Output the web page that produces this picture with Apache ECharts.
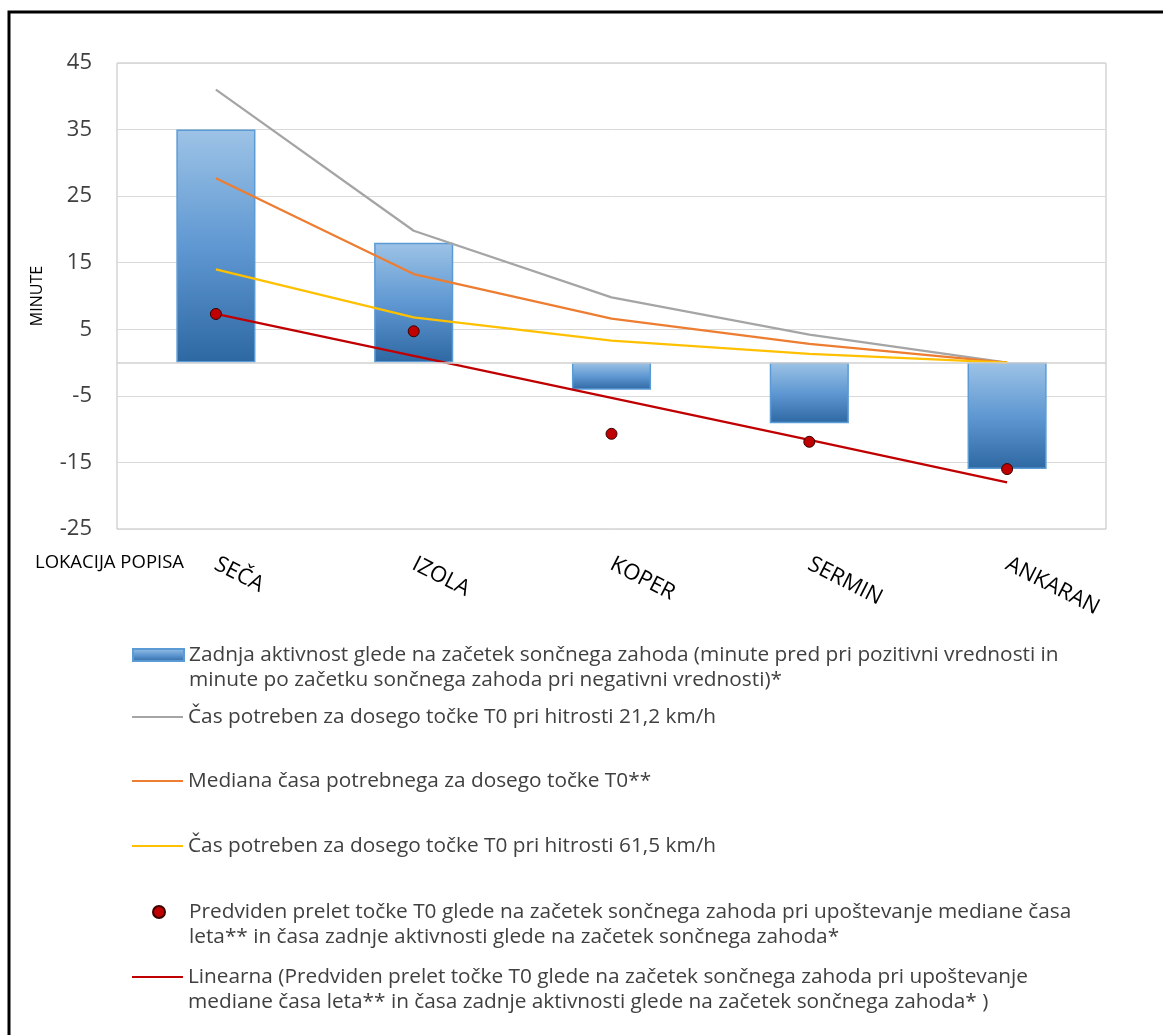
<!DOCTYPE html>
<html>
<head>
<meta charset="utf-8">
<script src="https://cdn.jsdelivr.net/npm/echarts@6/dist/echarts.min.js"></script>
<style>
  html, body { margin: 0; padding: 0; background: #fff; }
  #chart { width: 1163px; height: 1035px; }
</style>
</head>
<body>
<div id="chart"></div>
<script>
// Survey locations
var locations = ['SEČA', 'IZOLA', 'KOPER', 'SERMIN', 'ANKARAN'];

// Last activity relative to sunset start (minutes)
var lastActivity = [35, 18, -4.1, -9.1, -16];
// Time needed to reach point T0 at 21,2 km/h
var timeSlow = [41, 19.8, 9.8, 4.2, 0];
// Median time needed to reach point T0
var timeMedian = [27.7, 13.3, 6.6, 2.8, 0];
// Time needed to reach point T0 at 61,5 km/h
var timeFast = [14, 6.8, 3.3, 1.3, 0];
// Predicted pass over point T0
var predicted = [7.3, 4.7, -10.7, -11.9, -16];
// Linear trend of the predicted pass
var predictedTrend = [7.3, 1.0, -5.3, -11.6, -18.0];

// Y axis ticks
var yMin = -25, yMax = 45, yStep = 10;

var nameBar = 'Zadnja aktivnost glede na začetek sončnega zahoda (minute pred pri pozitivni vrednosti in minute po začetku sončnega zahoda pri negativni vrednosti)*';
var nameSlow = 'Čas potreben za dosego točke T0 pri hitrosti 21,2 km/h';
var nameMedian = 'Mediana časa potrebnega za dosego točke T0**';
var nameFast = 'Čas potreben za dosego točke T0 pri hitrosti 61,5 km/h';
var nameDots = 'Predviden prelet točke T0 glede na začetek sončnega zahoda pri upoštevanje mediane časa leta** in časa zadnje aktivnosti glede na začetek sončnega zahoda*';
var nameTrend = 'Linearna (Predviden prelet točke T0 glede na začetek sončnega zahoda pri upoštevanje mediane časa leta** in časa zadnje aktivnosti glede na začetek sončnega zahoda* )';

var legendFont = '"Open Sans", "DejaVu Sans", sans-serif';
var textColor = '#404040';

// one legend block per entry; the icon sits beside the first text line
// (two-line entries get a blank leading line so that line one is centred on the icon)
function legendEntry(name, centerY, cfg) {
  var breakAt = cfg.breakAt;
  var twoLines = breakAt != null;
  var text = twoLines ? ' \n' + name.slice(0, breakAt) + '\n' + name.slice(breakAt + 1) : name;
  var lh = 25;
  var iconW = cfg.iconW || 51;
  var iconH = cfg.iconH || 12;
  var boxH = twoLines ? lh * 3 : lh;
  var shift = cfg.textShift || 0;
  var top = centerY - Math.max(boxH, iconH) / 2;
  return {
    data: [{ name: name, icon: cfg.icon }],
    left: cfg.left || 132,
    top: top,
    padding: 0,
    itemWidth: iconW,
    itemHeight: iconH,
    selectedMode: false,
    formatter: function () { return text; },
    textStyle: {
      fontFamily: legendFont,
      fontSize: 20.8,
      color: textColor,
      lineHeight: lh,
      padding: [0, 0, 0, shift]
    }
  };
}

var barGradient = new echarts.graphic.LinearGradient(0, 0, 0, 1, [
  { offset: 0, color: '#9dc3e6' },
  { offset: 0.5, color: '#5f98d2' },
  { offset: 1, color: '#2e68a3' }
]);

var chart = echarts.init(document.getElementById('chart'), null, { renderer: 'canvas' });

var option = {
  animation: false,
  backgroundColor: '#ffffff',
  graphic: [
    {
      type: 'rect',
      shape: { x: 9, y: 12, width: 1200, height: 1100 },
      style: { fill: 'none', stroke: '#000', lineWidth: 3 },
      silent: true
    },
    {
      type: 'text',
      left: 35,
      top: 553,
      style: {
        text: 'LOKACIJA POPISA',
        font: '18.5px "Open Sans", sans-serif',
        fill: '#000'
      },
      silent: true
    }
  ],
  legend: [
    legendEntry(nameBar, 655, { breakAt: nameBar.indexOf(' minute po'), icon: 'rect' }),
    legendEntry(nameSlow, 717, { icon: 'rect', iconH: 2 }),
    legendEntry(nameMedian, 781, { icon: 'rect', iconH: 2 }),
    legendEntry(nameFast, 846, { icon: 'rect', iconH: 2 }),
    legendEntry(nameDots, 912, { breakAt: nameDots.indexOf(' leta**'), icon: 'circle', iconW: 12, iconH: 12, left: 152, textShift: 19 }),
    legendEntry(nameTrend, 977, { breakAt: nameTrend.indexOf(' mediane'), icon: 'rect', iconH: 2 })
  ],
  grid: {
    left: 117,
    right: 57,
    top: 63,
    bottom: 506,
    show: true,
    borderColor: '#bfbfbf',
    borderWidth: 1
  },
  xAxis: {
    type: 'category',
    data: locations,
    axisLine: { show: false, onZero: false },
    axisTick: { show: false },
    splitLine: { show: false },
    axisLabel: {
      rotate: -27,
      margin: 34,
      fontFamily: legendFont,
      fontSize: 22,
      color: '#000'
    }
  },
  yAxis: {
    type: 'value',
    min: yMin,
    max: yMax,
    interval: yStep,
    name: 'MINUTE',
    nameLocation: 'middle',
    nameRotate: 90,
    nameGap: 72,
    nameTextStyle: {
      fontFamily: legendFont,
      fontSize: 16,
      color: '#000'
    },
    axisLine: { show: false },
    axisTick: { show: false },
    axisLabel: {
      margin: 25,
      fontFamily: legendFont,
      fontSize: 22,
      color: textColor
    },
    splitLine: { lineStyle: { color: '#d9d9d9', width: 1 } }
  },
  series: [
    {
      name: nameBar,
      type: 'bar',
      data: lastActivity,
      barWidth: '40%',
      itemStyle: {
        color: barGradient,
        borderColor: '#5b9bd5',
        borderWidth: 1.5
      },
      markLine: {
        silent: true,
        symbol: 'none',
        label: { show: false },
        lineStyle: { color: '#d0d0d0', width: 1.5, type: 'solid' },
        data: [{ yAxis: 0 }]
      },
      z: 1
    },
    {
      name: nameSlow,
      type: 'line',
      data: timeSlow,
      symbol: 'none',
      lineStyle: { color: '#a5a5a5', width: 2.25 },
      itemStyle: { color: '#a5a5a5' },
      z: 3
    },
    {
      name: nameMedian,
      type: 'line',
      data: timeMedian,
      symbol: 'none',
      lineStyle: { color: '#ed7d31', width: 2.25 },
      itemStyle: { color: '#ed7d31' },
      z: 3
    },
    {
      name: nameFast,
      type: 'line',
      data: timeFast,
      symbol: 'none',
      lineStyle: { color: '#ffc000', width: 2.25 },
      itemStyle: { color: '#ffc000' },
      z: 3
    },
    {
      name: nameDots,
      type: 'scatter',
      data: predicted,
      symbol: 'circle',
      symbolSize: 11,
      itemStyle: { color: '#c00000', borderColor: '#3a0000', borderWidth: 1, opacity: 1 },
      z: 5
    },
    {
      name: nameTrend,
      type: 'line',
      data: predictedTrend,
      symbol: 'none',
      lineStyle: { color: '#c00000', width: 2.25 },
      itemStyle: { color: '#c00000' },
      z: 4
    }
  ]
};

chart.setOption(option);
</script>
</body>
</html>
